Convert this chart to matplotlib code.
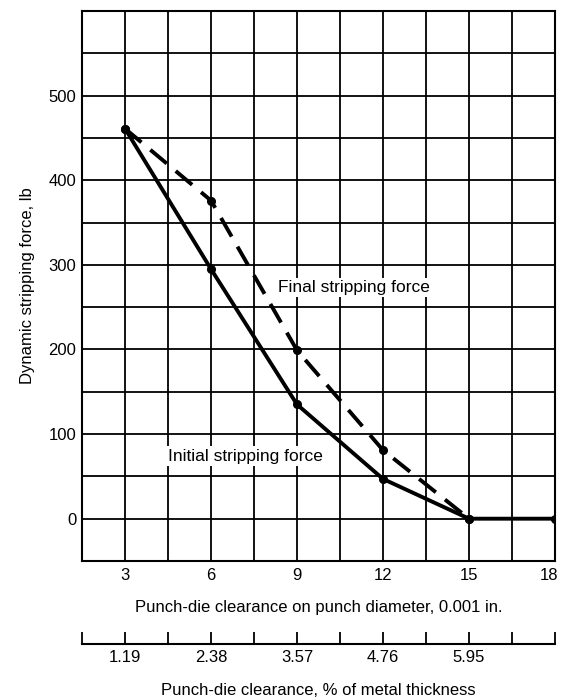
import numpy as np
import matplotlib
matplotlib.use("Agg")
import matplotlib.pyplot as plt
from matplotlib.transforms import ScaledTranslation

plt.rcParams['font.family'] = ['Liberation Sans', 'DejaVu Sans']

# clearance on punch diameter, 0.001 in.
clearance = [3, 6, 9, 12, 15, 18]
initial_force = [461, 295, 135, 47, 0, 0]
final_x = [3, 6, 9, 12, 15]
final_force = [461, 376, 199, 81, 0]

# secondary scale, % of metal thickness
pct_ticks = [3, 6, 9, 12, 15]
pct_labels = ["1.19", "2.38", "3.57", "4.76", "5.95"]

fig = plt.figure(figsize=(5.62, 6.99), dpi=100)
ax = fig.add_axes([82 / 562, 1 - 561 / 699, 473 / 562, 550 / 699])

ax.set_xlim(1.5, 18)
ax.set_ylim(-50, 600)

# grid every 1.5 x 50
for gx in np.arange(1.5, 18.01, 1.5):
    ax.axvline(gx, color='black', lw=1.3, zorder=1)
for gy in np.arange(-50, 600.1, 50):
    ax.axhline(gy, color='black', lw=1.3, zorder=1)

ax.plot(clearance, initial_force, color='black', lw=2.8, marker='o', ms=5.5, zorder=3)
ax.plot(final_x, final_force, color='black', lw=2.8, ls=(0, (5.5, 3)), marker='o', ms=5.5, zorder=3)

ax.text(8.35, 273, "Final stripping force", fontsize=12.5, va='center', ha='left',
        bbox=dict(facecolor='white', edgecolor='none', pad=1.5), zorder=4)
ax.text(4.5, 74, "Initial stripping force", fontsize=12.5, va='center', ha='left',
        bbox=dict(facecolor='white', edgecolor='none', pad=1.5), zorder=4)

ax.set_xticks(clearance)
ax.set_yticks([0, 100, 200, 300, 400, 500])
ax.tick_params(axis='x', length=0, labelsize=12, pad=5)
ax.tick_params(axis='y', length=0, labelsize=12, pad=4)
for s in ax.spines.values():
    s.set_linewidth(1.5)

# keep "18" inside the figure edge
last = ax.xaxis.get_major_ticks()[-1].label1
last.set_transform(last.get_transform() + ScaledTranslation(-0.06, 0, fig.dpi_scale_trans))

ax.set_xlabel("Punch-die clearance on punch diameter, 0.001 in.", fontsize=12, labelpad=12)
ax.set_ylabel("Dynamic stripping force, lb", fontsize=12, labelpad=10)

sec = ax.secondary_xaxis(-83 / 550)
sec.set_xticks(pct_ticks)
sec.set_xticklabels(pct_labels)
sec.set_xticks(np.arange(1.5, 18.01, 1.5), minor=True)
sec.tick_params(which='both', direction='in', length=9, width=1.3, labelsize=12, pad=4)
sec.spines['bottom'].set_linewidth(1.5)
sec.set_xlabel("Punch-die clearance, % of metal thickness", fontsize=12, labelpad=13)

fig.savefig("out.png", dpi=100)
